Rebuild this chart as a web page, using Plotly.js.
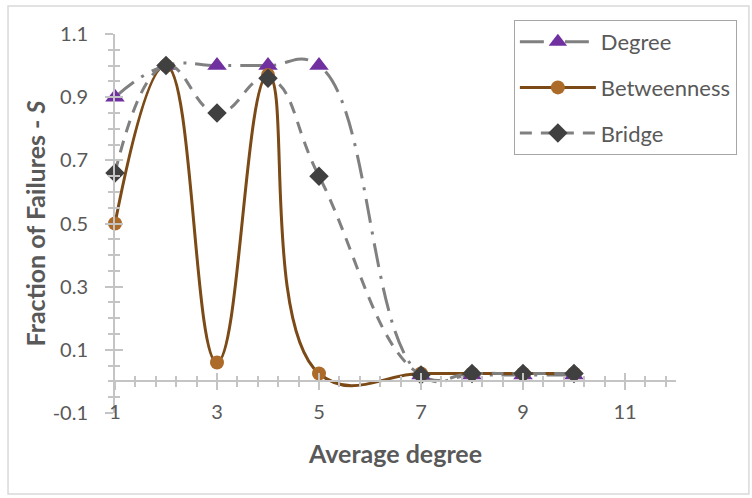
<!DOCTYPE html>
<html>
<head>
<meta charset="utf-8">
<script src="https://cdn.plot.ly/plotly-3.0.1.min.js"></script>
<style>
  html, body { margin: 0; padding: 0; background: #ffffff; }
  #chart { width: 752px; height: 498px; }
</style>
</head>
<body>
<div id="chart"></div>
<script>
// Average degree of the network (x values)
const avgDegree = [1, 2, 3, 4, 5, 7, 8, 9, 10];

// Fraction of failures S for each attack strategy
const degreeS      = [0.90, 1.00, 1.00, 1.00, 1.00, 0.02, 0.02, 0.02, 0.02];
const betweennessS = [0.50, 1.00, 0.06, 0.97, 0.025, 0.025, 0.025, 0.025, 0.025];
const bridgeS      = [0.66, 1.00, 0.85, 0.96, 0.65, 0.02, 0.025, 0.025, 0.025];

const seriesNames = ['Degree', 'Betweenness', 'Bridge'];

// Axis tick labels
const xTickVals = [1, 3, 5, 7, 9, 11];
const yTickVals = [-0.1, 0.1, 0.3, 0.5, 0.7, 0.9, 1.1];
const yTickText = ['-0.1', '0.1', '0.3', '0.5', '0.7', '0.9', '1.1'];

const FONT = 'Lato, "Open Sans", "DejaVu Sans", sans-serif';
const TEXT = '#595959';
const AXIS = '#C4C4C4';
const SMOOTH = 1.3;

const X_RANGE = [1, 12];
const Y_RANGE = [-0.1, 1.1];
// fraction of the plot height where y = 0 sits (the x axis crosses there)
const yZeroPos = (0 - Y_RANGE[0]) / (Y_RANGE[1] - Y_RANGE[0]);

// Each series sits on its own overlaid axis pair (all share identical ranges),
// so the overlaid axes can carry the inner half of the crossing tick marks.
const traces = [
  {
    x: avgDegree, y: degreeS, name: seriesNames[0], legendgroup: 'g1',
    xaxis: 'x', yaxis: 'y',
    type: 'scatter', mode: 'lines+markers', cliponaxis: false,
    line: { color: '#808080', width: 3, shape: 'spline', smoothing: SMOOTH, dash: '24px,9px,3px,9px' },
    marker: { symbol: 'triangle-up', size: 17, color: '#7030A0' }
  },
  {
    x: avgDegree, y: betweennessS, name: seriesNames[1], legendgroup: 'g2',
    xaxis: 'x2', yaxis: 'y',
    type: 'scatter', mode: 'lines+markers', cliponaxis: false,
    line: { color: '#7B4A16', width: 3, shape: 'spline', smoothing: SMOOTH },
    marker: { symbol: 'circle', size: 14, color: '#AD6B2A' }
  },
  {
    x: avgDegree, y: bridgeS, name: seriesNames[2], legendgroup: 'g3',
    xaxis: 'x2', yaxis: 'y2',
    type: 'scatter', mode: 'lines+markers', cliponaxis: false,
    line: { color: '#808080', width: 3, shape: 'spline', smoothing: SMOOTH, dash: '12px,9px' },
    marker: { symbol: 'diamond', size: 15, color: '#404040' }
  }
];

const layout = {
  width: 752, height: 498,
  margin: { l: 115, r: 76, t: 34, b: 85 },
  paper_bgcolor: '#ffffff', plot_bgcolor: 'rgba(0,0,0,0)',
  font: { family: FONT, color: TEXT, size: 20 },
  showlegend: true,
  legend: {
    x: 0.711, y: 1.037, xanchor: 'left', yanchor: 'top',
    bordercolor: '#A6A6A6', borderwidth: 1, bgcolor: '#ffffff',
    font: { family: FONT, size: 22, color: TEXT },
    traceorder: 'grouped', tracegroupgap: 14, itemwidth: 76
  },
  // x axis drawn where y = 0; its labels sit at the bottom of the plot
  xaxis: {
    range: X_RANGE, domain: [0, 1], anchor: 'free', position: yZeroPos,
    tickvals: xTickVals, ticktext: xTickVals.map(String),
    showline: true, linecolor: AXIS, linewidth: 2,
    ticks: 'outside', ticklen: 8, tickwidth: 2, tickcolor: AXIS,
    minor: { tick0: 1, dtick: 0.4, ticks: 'outside', ticklen: 5, tickwidth: 2, tickcolor: AXIS, showgrid: false },
    showgrid: false, zeroline: false,
    tickfont: { family: FONT, size: 20, color: TEXT },
    ticklabelstandoff: 5,
    title: { text: '<b>Average degree</b>', font: { family: FONT, size: 25, color: TEXT }, standoff: 22 }
  },
  xaxis2: {
    overlaying: 'x', anchor: 'free', position: yZeroPos,
    range: X_RANGE, showgrid: false, zeroline: false, showticklabels: false, showline: false,
    tick0: 1, dtick: 2, ticks: 'inside', ticklen: 8, tickwidth: 2, tickcolor: AXIS,
    minor: { tick0: 1, dtick: 0.4, ticks: 'inside', ticklen: 5, tickwidth: 2, tickcolor: AXIS, showgrid: false }
  },
  yaxis: {
    range: Y_RANGE, domain: [0, 1], anchor: 'x',
    tickvals: yTickVals, ticktext: yTickText,
    showgrid: false, zeroline: false,
    showline: true, linecolor: AXIS, linewidth: 2,
    ticks: 'outside', ticklen: 8, tickwidth: 2, tickcolor: AXIS,
    minor: { tick0: -0.1, dtick: 0.05, ticks: 'outside', ticklen: 5, tickwidth: 2, tickcolor: AXIS, showgrid: false },
    tickfont: { family: FONT, size: 20, color: TEXT },
    ticklabelstandoff: 13,
    title: { text: '<b>Fraction of Failures - <i>S</i></b>', font: { family: FONT, size: 25, color: TEXT }, standoff: 0 }
  },
  yaxis2: {
    overlaying: 'y', anchor: 'x', side: 'left',
    range: Y_RANGE, showgrid: false, zeroline: false, showticklabels: false, showline: false,
    tick0: -0.1, dtick: 0.2, ticks: 'inside', ticklen: 8, tickwidth: 2, tickcolor: AXIS,
    minor: { tick0: -0.1, dtick: 0.05, ticks: 'inside', ticklen: 5, tickwidth: 2, tickcolor: AXIS, showgrid: false }
  },
  shapes: [
    // light frame around the whole chart
    { type: 'rect', xref: 'paper', yref: 'paper', layer: 'below',
      x0: -0.1907, x1: 1.130, y0: -0.2137, y1: 1.0739,
      line: { color: '#D9D9D9', width: 1.5 }, fillcolor: 'rgba(0,0,0,0)' }
  ]
};

Plotly.newPlot('chart', traces, layout, { displayModeBar: false, staticPlot: true });
</script>
</body>
</html>
